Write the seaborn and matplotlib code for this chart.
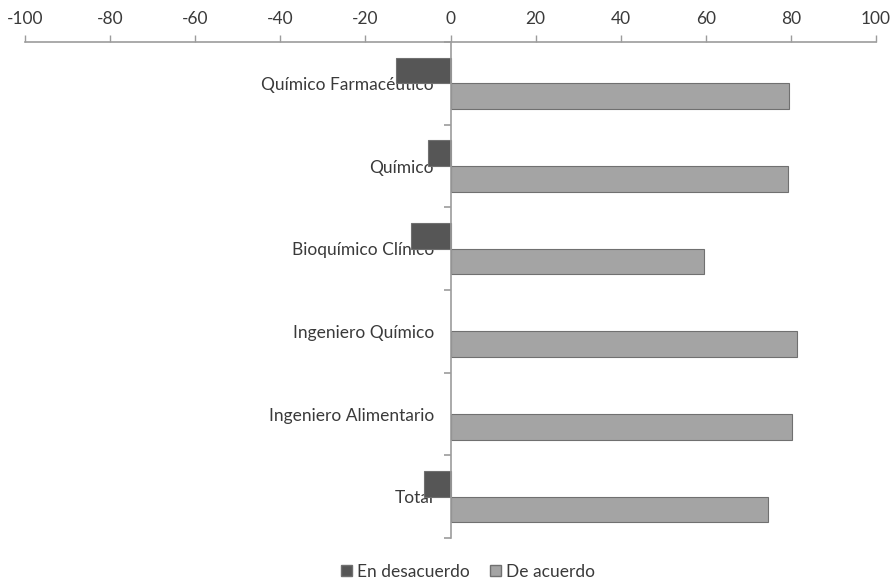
import matplotlib
matplotlib.use("Agg")
import matplotlib.pyplot as plt
import seaborn as sns
import pandas as pd
from matplotlib.patches import Patch

categories = ["Químico Farmacéutico", "Químico", "Bioquímico Clínico",
              "Ingeniero Químico", "Ingeniero Alimentario", "Total"]
series_names = ["En desacuerdo", "De acuerdo"]
en_desacuerdo = [-12.7, -5.2, -9.2, 0.0, 0.0, -6.3]
de_acuerdo = [79.6, 79.3, 59.6, 81.4, 80.3, 74.6]
x_ticks = [-100, -80, -60, -40, -20, 0, 20, 40, 60, 80, 100]

df = pd.DataFrame({
    "Categoría": categories * 2,
    "Serie": [series_names[0]] * len(categories) + [series_names[1]] * len(categories),
    "Valor": en_desacuerdo + de_acuerdo,
})

sns.set_theme(style="white")
plt.rcParams["font.family"] = ["Lato", "DejaVu Sans"]

dark = "#565656"
light = "#a4a4a4"
axis_col = "#9c9c9c"
text_col = "#3a3a3a"

fig = plt.figure(figsize=(8.95, 5.79), dpi=100)
ax = fig.add_axes([25 / 895, 1 - 538 / 579, 851 / 895, (538 - 42) / 579])

sns.barplot(data=df, y="Categoría", x="Valor", hue="Serie", order=categories,
            hue_order=series_names, palette=[dark, light], width=0.62,
            orient="h", errorbar=None, ax=ax, legend=False,
            edgecolor="#707070", linewidth=0.8, saturation=1)

for p in ax.patches:
    if abs(p.get_width()) < 1e-9:
        p.set_visible(False)

ax.set_xlim(-100, 100)
ax.set_ylim(5.5, -0.5)
ax.set_xlabel("")
ax.set_ylabel("")

ax.xaxis.tick_top()
ax.set_xticks(x_ticks)
ax.set_xticklabels([str(t) for t in x_ticks])
ax.tick_params(axis="x", which="major", top=True, direction="out", length=5, width=1,
               color=axis_col, labelcolor=text_col, labelsize=12.5, pad=6)

ax.set_yticks(range(len(categories)))
ax.set_yticklabels(categories)
ax.set_yticks([i - 0.5 for i in range(len(categories) + 1)], minor=True)
ax.tick_params(axis="y", which="major", left=True, length=0, labelcolor=text_col,
               labelsize=12.5, pad=12)
ax.tick_params(axis="y", which="minor", left=True, direction="out", length=5, width=1.2,
               color=axis_col)

for s in ["bottom", "right"]:
    ax.spines[s].set_visible(False)
ax.spines["top"].set_color(axis_col)
ax.spines["top"].set_linewidth(1.2)
ax.spines["left"].set_position(("data", 0))
ax.spines["left"].set_color(axis_col)
ax.spines["left"].set_linewidth(1.2)
ax.set_zorder(1)

handles = [Patch(facecolor=dark, edgecolor="#707070", label=series_names[0]),
           Patch(facecolor=light, edgecolor="#707070", label=series_names[1])]
fig.legend(handles=handles, loc="center", bbox_to_anchor=(468 / 895, 1 - 572 / 579),
           ncol=2, frameon=False, handlelength=0.6, handleheight=0.6,
           handletextpad=0.3, columnspacing=1.2, fontsize=12.5, labelcolor=text_col)

fig.savefig("out.png", dpi=100)
